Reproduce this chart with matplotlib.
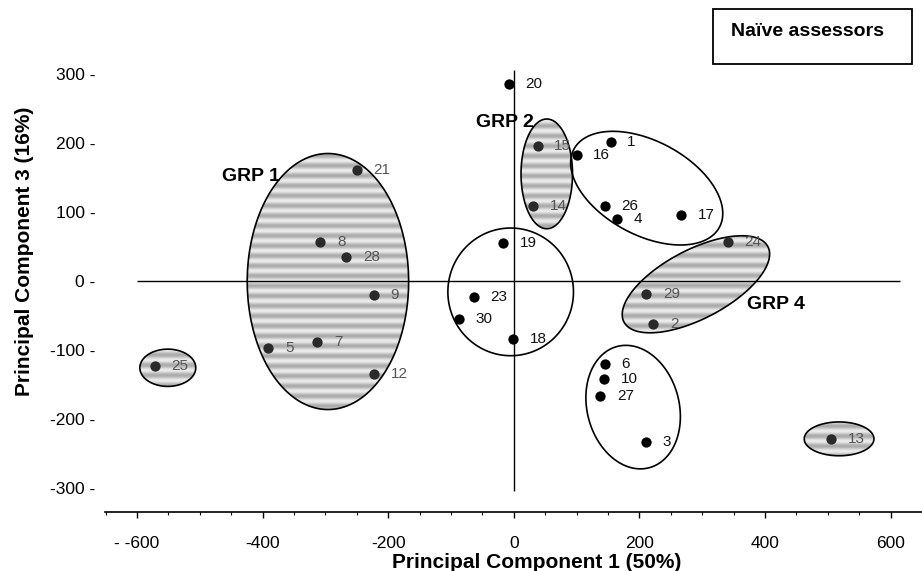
import numpy as np
import matplotlib.pyplot as plt
from matplotlib.patches import Polygon, Rectangle
from matplotlib.colors import LinearSegmentedColormap

plt.rcParams['font.family'] = ['Liberation Sans', 'DejaVu Sans']

# assessor scores on PC1 and PC3
ids = ['1', '2', '3', '4', '5', '6', '7', '8', '9', '10', '12', '13', '14', '15',
       '16', '17', '18', '19', '20', '21', '23', '24', '25', '26', '27', '28', '29', '30']
pc1 = [154, 222, 210, 165, -391, 145, -313, -308, -223, 144, -223, 505, 31, 38,
       100, 266, -1, -17, -8, -250, -64, 341, -572, 145, 138, -267, 211, -87]
pc3 = [201, -62, -234, 90, -98, -120, -88, 56, -21, -142, -135, -229, 108, 196,
       182, 96, -84, 55, 285, 160, -23, 56, -123, 109, -167, 35, -19, -56]

# groups: centre, two conjugate semi-axes (data units), striped or not
groups = [
    ((-296, -1), (128.5, 0), (0, 185.5), True),
    ((-551, -126), (44.5, 0), (0, 27), True),
    ((52.5, 155), (41, 0), (0, 79.5), True),
    ((211.6, 134.3), (116, -56.3), (34.9, 60.1), False),
    ((-5, -16), (100, 0), (0, 92.5), False),
    ((290, -5), (114.6, 54.6), (-25.3, 44.3), True),
    ((190, -183), (70.7, 17.3), (-25.7, 87.8), False),
    ((518, -229), (55.5, 0), (0, 24.5), True),
]
grp_names = ['GRP 1', 'GRP 2', 'GRP 4']
grp_pos = [(-464, 151), (-60, 230), (371, -35)]

xticks = [-600, -400, -200, 0, 200, 400, 600]
xtick_labels = ['- -600', '-400', '-200', '0', '200', '400', '600']
yticks = [-300, -200, -100, 0, 100, 200, 300]

stripe_cmap = LinearSegmentedColormap.from_list('stripes', ['#ababab', '#ececec'])


def ellipse_pts(c, u, v, n=240):
    t = np.linspace(0, 2 * np.pi, n)
    x = c[0] + np.cos(t) * u[0] + np.sin(t) * v[0]
    y = c[1] + np.cos(t) * u[1] + np.sin(t) * v[1]
    return np.column_stack([x, y])


fig = plt.figure(figsize=(9.22, 5.71), dpi=100)
ax = fig.add_axes([105 / 922, 1 - 512 / 571, 817 / 922, 472 / 571])

shaded = []
for c, u, v, hatch in groups:
    pts = ellipse_pts(c, u, v)
    ax.add_patch(Polygon(pts, closed=True, fill=False, ec='black', lw=1.2, zorder=3))
    if hatch:
        x0, x1 = pts[:, 0].min(), pts[:, 0].max()
        y0, y1 = pts[:, 1].min(), pts[:, 1].max()
        yy = np.linspace(y0, y1, 400)
        band = 0.5 + 0.5 * np.cos(2 * np.pi * yy / 14.5)
        img = np.repeat(band[:, None], 4, axis=1)
        im = ax.imshow(img, extent=(x0, x1, y0, y1), origin='lower', aspect='auto',
                       cmap=stripe_cmap, vmin=0, vmax=1, interpolation='bilinear', zorder=1)
        im.set_clip_path(Polygon(pts, closed=True, transform=ax.transData))
        shaded.append(Polygon(pts))

# reference axes through the origin
ax.hlines(0, -600, 615, color='black', lw=1.0, zorder=2)
ax.vlines(0, -305, 305, color='black', lw=1.0, zorder=2)

for name, x, y in zip(ids, pc1, pc3):
    inside = any(p.get_path().contains_point((x, y)) for p in shaded)
    ax.scatter(x, y, s=55, color='#2a2a2a' if inside else 'black', zorder=4, lw=0)
    ax.annotate(name, (x, y), xytext=(12, 0), textcoords='offset points',
                va='center', ha='left', fontsize=11,
                color='#555555' if inside else '#111111', zorder=5)

for name, (x, y) in zip(grp_names, grp_pos):
    ax.text(x, y, name, fontsize=14, fontweight='bold', ha='left', va='center')

ax.set_xlim(-651, 643)
ax.set_ylim(-335, 349)
for s in ['left', 'top', 'right']:
    ax.spines[s].set_visible(False)
ax.spines['bottom'].set_linewidth(1.2)

ax.set_xticks(xticks)
ax.set_xticklabels(xtick_labels, fontsize=12.5)
ax.set_xticks(np.arange(-650, 651, 50), minor=True)
ax.tick_params(axis='x', which='major', length=4, width=1, pad=13)
ax.tick_params(axis='x', which='minor', length=2.5, width=0.8)

ax.set_yticks(yticks)
ax.set_yticklabels([f'{v} -' for v in yticks], fontsize=12.5)
ax.tick_params(axis='y', length=0, pad=7)

fig.text(25 / 922, 1 - 251 / 571, 'Principal Component 3 (16%)', rotation=90,
         fontsize=15, fontweight='bold', ha='center', va='center')
fig.text(537 / 922, 1 - 562 / 571, 'Principal Component 1 (50%)',
         fontsize=15, fontweight='bold', ha='center', va='center')

fig.add_artist(Rectangle((712.7 / 922, 1 - 64 / 571), 199 / 922, 54.7 / 571,
                         transform=fig.transFigure, fill=False, ec='black', lw=1.3))
fig.text(807.5 / 922, 1 - 32 / 571, 'Naïve assessors', fontsize=14,
         fontweight='bold', ha='center', va='center')

fig.savefig('out.png', dpi=100)
